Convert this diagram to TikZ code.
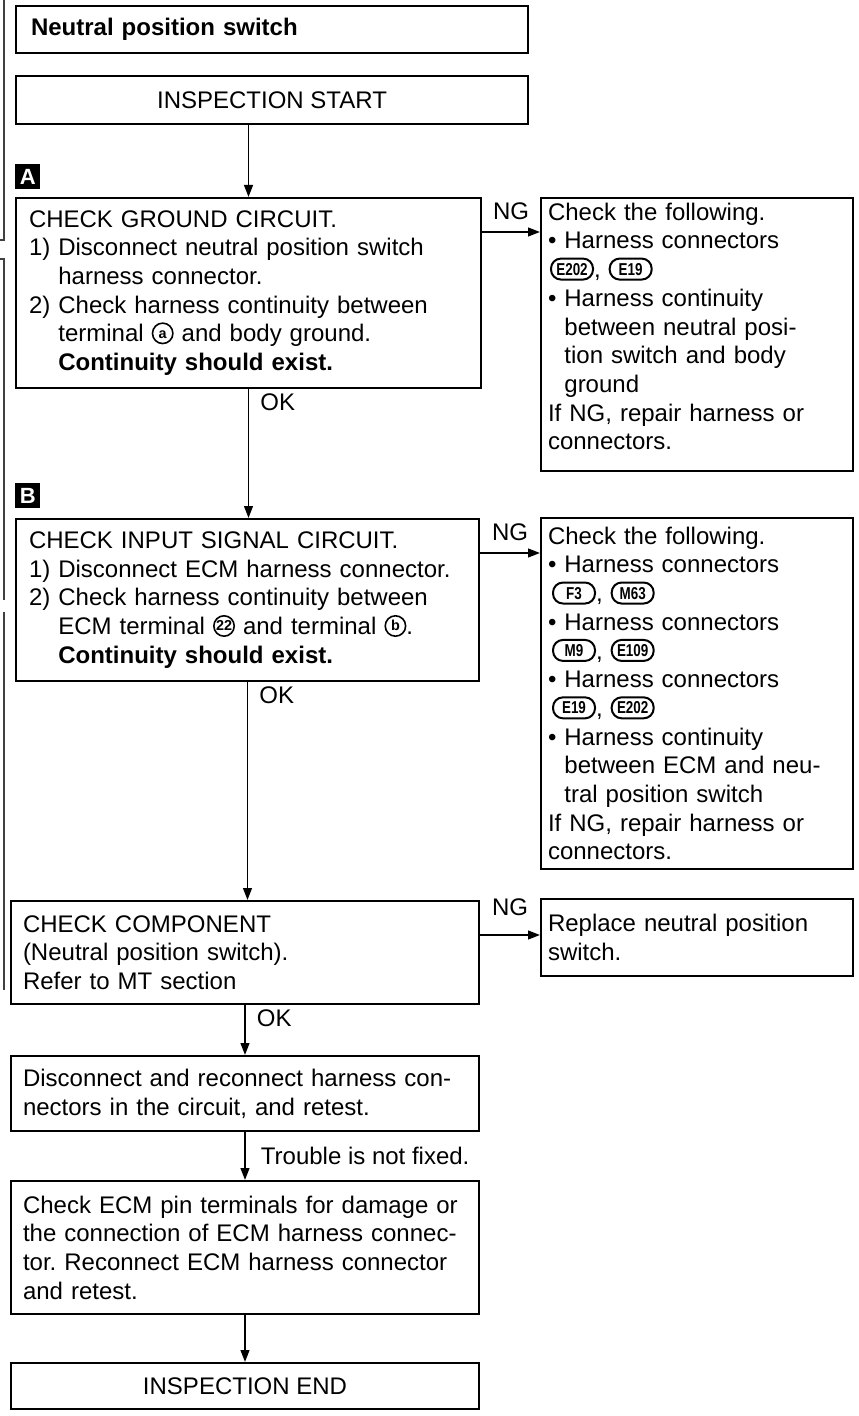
\documentclass[tikz,border=0pt]{standalone}
\usepackage{fontspec}
\setmainfont{Liberation Sans}
\usepackage{graphicx}
\usetikzlibrary{positioning,arrows.meta}
\tikzset{
  box/.style     ={draw, line width=1pt, inner ysep=0pt,
                   font=\frenchspacing\fontsize{12}{14.35}\selectfont},
  stepbox/.style ={box, anchor=north west, align=left, inner xsep=6.5pt},
  fixbox/.style  ={box, anchor=north west, align=left, inner xsep=3.5pt,
                   text width=149pt},
  termbox/.style ={box, anchor=north west, align=center},
  marker/.style  ={fill=black, text=white, anchor=north west, inner sep=0pt,
                   minimum size=12.5pt, font=\bfseries\fontsize{11}{11}\selectfont},
  connpill/.style={draw, line width=1pt, rounded corners=5pt, text width=,
                   minimum width=21pt, minimum height=10.5pt, inner xsep=1pt,
                   inner ysep=0pt, text height=6pt, text depth=0pt,
                   font=\bfseries\fontsize{8.6}{8.6}\selectfont},
  termcirc/.style={circle, draw, line width=0.8pt, text width=, minimum size=10.2pt,
                   inner sep=0pt, text height=5pt, text depth=0pt,
                   font=\bfseries\fontsize{7.2}{7.2}\selectfont},
  fl/.style      ={-{Triangle[length=6pt,width=4.4pt]}, line width=0.9pt},
  lbl/.style     ={font=\fontsize{12}{14}\selectfont, inner sep=2pt},
  scan/.style    ={line width=0.8pt, black!75},
}
\newcommand{\conn}[1]{\tikz[baseline={([yshift=-1.3pt]cn.base)}]
  \node[connpill] (cn) {\scalebox{.78}[1]{#1}};}
\newcommand{\termno}[1]{\tikz[baseline={([yshift=-1.8pt]tc.base)}]
  \node[termcirc] (tc) {#1};}
\newcommand{\ind}{\phantom{\textbullet\ }}

\begin{document}
\begin{tikzpicture}[x=0.5pt, y=-0.5pt]
  \useasboundingbox (0,0) rectangle (858,1416);

  % ---- scan edge on the left ----
  \draw[scan] (4,0) -- (4,240) -- (0,240);
  \draw[scan] (0,259) -- (4,259) -- (4,600);
  \draw[scan] (4,612) -- (4,990);

  % ---- heading and start ----
  \node[box, anchor=north west, align=left, text width=241pt, inner xsep=7.5pt,
        minimum height=23.5pt, font=\bfseries\fontsize{12}{14}\selectfont]
        (title) at (15,5) {Neutral position switch};
  \node[termbox, minimum width=256pt, minimum height=24pt] (start) at (15,75)
        {INSPECTION START};

  % ---- step A ----
  \node[marker] (markA) at (15,164) {A};
  \node[stepbox, text width=219.5pt, minimum height=95pt] (chkA) at (15,197)
        {CHECK GROUND CIRCUIT.\\
         1) Disconnect neutral position switch\\
         \phantom{1) }harness connector.\\
         2) Check harness continuity between\\
         \phantom{2) }terminal \termno{a} and body ground.\\
         \phantom{2) }\textbf{Continuity should exist.}};
  \node[fixbox, minimum height=136.5pt] (fixA) at (540,197)
        {Check the following.\\
         \textbullet\ Harness connectors\\
         \hspace*{1pt}\conn{E202}, \conn{E19}\\
         \textbullet\ Harness continuity\\
         \ind between neutral posi-\\
         \ind tion switch and body\\
         \ind ground\\
         If NG, repair harness or\\
         connectors.\par\kern8pt};

  % ---- step B ----
  \node[marker] (markB) at (15,483) {B};
  \node[stepbox, text width=218.5pt, minimum height=81pt] (chkB) at (15,518)
        {CHECK INPUT SIGNAL CIRCUIT.\\
         1) Disconnect ECM harness connector.\\
         2) Check harness continuity between\\
         \phantom{2) }ECM terminal \termno{22} and terminal \termno{b}.\\
         \phantom{2) }\textbf{Continuity should exist.}};
  \node[fixbox, minimum height=175.5pt] (fixB) at (540,517)
        {Check the following.\\
         \textbullet\ Harness connectors\\
         \hspace*{2pt}\conn{F3}, \conn{M63}\\
         \textbullet\ Harness connectors\\
         \hspace*{2pt}\conn{M9}, \conn{E109}\\
         \textbullet\ Harness connectors\\
         \hspace*{2pt}\conn{E19}, \conn{E202}\\
         \textbullet\ Harness continuity\\
         \ind between ECM and neu-\\
         \ind tral position switch\\
         If NG, repair harness or\\
         connectors.};

  % ---- component check ----
  \node[stepbox, text width=222pt, inner xsep=6pt, minimum height=51.5pt] (chkC) at (10,900)
        {CHECK COMPONENT\\
         (Neutral position switch).\\
         Refer to MT section};
  \node[fixbox, minimum height=38.5pt] (fixC) at (540,898)
        {Replace neutral position\\
         switch.};

  % ---- last steps ----
  \node[stepbox, text width=222pt, inner xsep=6pt, minimum height=37.5pt] (retest) at (10,1055)
        {Disconnect and reconnect harness con-\\
         nectors in the circuit, and retest.};
  \node[stepbox, text width=222pt, inner xsep=6pt, minimum height=66.5pt] (ecmpins) at (10,1180)
        {Check ECM pin terminals for damage or\\
         the connection of ECM harness connec-\\
         tor. Reconnect ECM harness connector\\
         and retest.};
  \node[termbox, minimum width=234pt, minimum height=23pt] (finish) at (10,1362)
        {INSPECTION END};

  % ---- arrows ----
  \draw[fl] (start.south -| chkA.north) -- (chkA.north);
  \draw[fl] (chkA.south) -- node[lbl, anchor=north west, pos=0, xshift=3.5pt]{OK}
            (chkB.north -| chkA.south);
  \draw[fl] (chkB.south) -- node[lbl, anchor=north west, pos=0, xshift=3.5pt]{OK}
            (chkC.north -| chkB.south);
  \draw[fl] (chkC.south) -- node[lbl, anchor=north west, pos=0, xshift=3.5pt]{OK}
            (retest.north);
  \draw[fl] (retest.south) -- node[lbl, right, xshift=5.5pt]{Trouble is not fixed.}
            (ecmpins.north);
  \draw[fl] (ecmpins.south) -- (finish.north);

  \draw[fl] ([yshift=-17.5pt]chkA.north east) -- node[lbl, above=3.5pt]{NG}
            ([yshift=-17.5pt]chkA.north east -| fixA.west);
  \draw[fl] ([yshift=-17.5pt]chkB.north east) -- node[lbl, above=3.5pt]{NG}
            ([yshift=-17.5pt]chkB.north east -| fixB.west);
  \draw[fl] ([yshift=-17.5pt]chkC.north east) -- node[lbl, above=7pt]{NG}
            ([yshift=-17.5pt]chkC.north east -| fixC.west);
\end{tikzpicture}
\end{document}
